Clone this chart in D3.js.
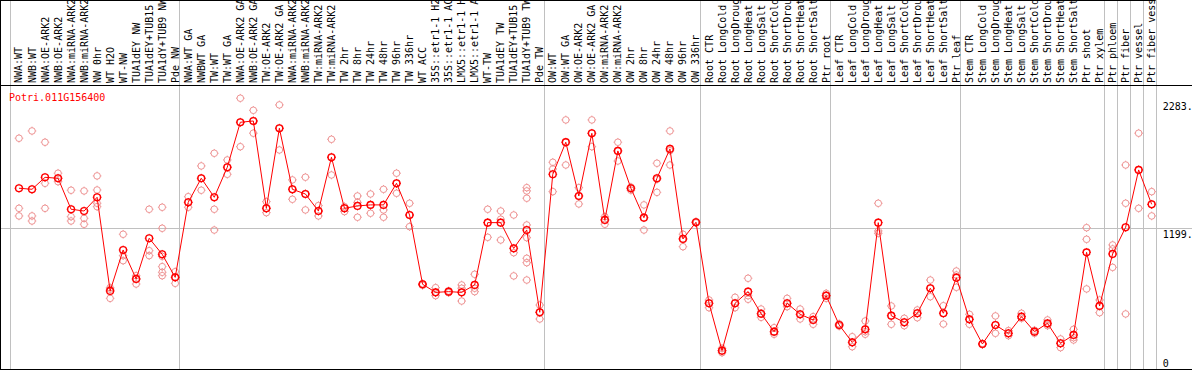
<!DOCTYPE html>
<html lang="en">
<head>
<meta charset="UTF-8">
<title>Potri.011G156400</title>
<script src="https://d3js.org/d3.v7.min.js"></script>
<style>
  html, body { margin: 0; padding: 0; background: #fff; }
  svg { display: block; }
  text { font-family: "DejaVu Sans Mono", monospace; font-size: 10px; }
</style>
</head>
<body>
<div id="chart"></div>
<script>
// sample labels, one per column
const labels = [
  "NWA:WT", "NWB:WT", "NWA:OE-ARK2", "NWB:OE-ARK2", "NWA:miRNA-ARK2", "NWB:miRNA-ARK2",
  "NW 0hr", "WT H2O", "WT-NW", "TUA1dEY NW", "TUA1dEY+TUB15 NW", "TUA1dY+TUB9 NW", "Pde NW",
  "NWA:WT GA", "NWBWT GA", "TW:WT", "TW:WT GA", "NWA:OE-ARK2 GA", "NWB:OE-ARK2 GA",
  "TW:OE-ARK2", "TW:OE-ARK2 GA", "NWA:miRNA-ARK2 GA", "NWB:miRNA-ARK2 GA", "TW:miRNA-ARK2",
  "TW:miRNA-ARK2 GA", "TW 2hr", "TW 8hr", "TW 24hr", "TW 48hr", "TW 96hr", "TW 336hr",
  "WT ACC", "35S::etr1-1 H2O", "35S::etr1-1 ACC", "LMX5::etr1-1 H2O", "LMX5::etr1-1 ACC",
  "WT-TW", "TUA1dEY TW", "TUA1dEY+TUB15 TW", "TUA1dY+TUB9 TW", "Pde TW",
  "OW:WT", "OW:WT GA", "OW:OE-ARK2", "OW:OE-ARK2 GA", "OW:miRNA-ARK2", "OW:miRNA-ARK2 GA",
  "OW 2hr", "OW 8hr", "OW 24hr", "OW 48hr", "OW 96hr", "OW 336hr",
  "Root CTR", "Root LongCold", "Root LongDrought", "Root LongHeat", "Root LongSalt",
  "Root ShortCold", "Root ShortDrought", "Root ShortHeat", "Root ShortSalt", "Ptr root",
  "Leaf CTR", "Leaf LongCold", "Leaf LongDrought", "Leaf LongHeat", "Leaf LongSalt",
  "Leaf ShortCold", "Leaf ShortDrought", "Leaf ShortHeat", "Leaf ShortSalt", "Ptr leaf",
  "Stem CTR", "Stem LongCold", "Stem LongDrought", "Stem LongHeat", "Stem LongSalt",
  "Stem ShortCold", "Stem ShortDrought", "Stem ShortHeat", "Stem ShortSalt", "Ptr shoot",
  "Ptr xylem", "Ptr phloem", "Ptr fiber", "Ptr vessel", "Ptr fiber vessel"
];

// column index where each experiment group starts (last = right edge)
const groupStarts = [0, 13, 41, 53, 63, 73, 84, 85, 86, 87, 88];

// mean expression per column
const means = [
  1540, 1531, 1633, 1625, 1361, 1346, 1463, 665, 1014, 767, 1114, 977, 781,
  1420, 1625, 1463, 1719, 2102, 2113, 1369, 2051, 1531, 1491, 1346, 1804, 1369,
  1389, 1398, 1398, 1582, 1312, 722, 653, 659, 653, 716, 1247, 1247, 1028, 1184, 483,
  1659, 1932, 1474, 2008, 1270, 1858, 1540, 1289, 1625, 1875, 1108, 1250,
  560, 156, 560, 659, 471, 318, 560, 466, 418, 625,
  375, 227, 338, 1247, 454, 398, 475, 688, 475, 778,
  423, 213, 375, 304, 446, 318, 389, 219, 290, 994, 537, 980, 1207, 1696, 1403
];

// replicate values per column
const replicates = [
  [1966, 1369, 1304], [2028, 1304, 1261], [1932, 1582, 1369], [1668, 1596, 1625],
  [1523, 1298, 1261], [1517, 1284, 1233], [1645, 1525, 1412, 1383], [693, 680, 602],
  [1148, 966, 923], [795, 767, 724], [1361, 1008, 966], [1378, 1199, 960, 872, 824, 795],
  [829, 781, 730],
  [1468, 1420, 1378], [1730, 1625, 1523], [1838, 1361, 1184], [1781, 1719, 1659],
  [2307, 2102, 1894], [2204, 2113, 2009], [1426, 1369, 1332], [2250, 2051, 1866],
  [1611, 1531, 1446], [1634, 1491, 1355], [1392, 1346, 1304], [1957, 1804, 1653],
  [1383, 1369, 1341], [1474, 1420, 1293], [1491, 1398, 1327], [1531, 1355, 1293],
  [1668, 1582, 1497], [1412, 1312, 1213], [726, 722, 713], [693, 653, 625],
  [665, 659, 650], [716, 688, 579], [807, 688, 659], [1361, 1247, 1122],
  [1346, 1276, 1099], [1312, 991, 793], [1545, 1517, 1455, 1227, 1119, 943, 906, 758],
  [545, 483, 426],
  [1761, 1704, 1511], [2122, 1932, 1738], [1545, 1474, 1406], [2122, 2008, 1894],
  [1298, 1270, 1233], [1932, 1858, 1772], [1550, 1536, 1523], [1398, 1289, 1184],
  [1753, 1616, 1505], [2028, 1860, 1738], [1148, 1108, 1042], [1255, 1250, 1245],
  [588, 560, 522], [176, 156, 139], [611, 560, 522], [773, 625, 594], [511, 471, 440],
  [352, 315, 296], [602, 560, 531], [511, 466, 426], [446, 418, 381], [645, 625, 602],
  [385, 375, 365], [275, 227, 190], [409, 318, 296], [1412, 1176, 1156], [537, 454, 381],
  [432, 398, 369], [503, 475, 437], [758, 688, 616], [539, 475, 383], [835, 801, 696],
  [466, 423, 381], [218, 213, 208], [452, 375, 304], [327, 304, 284], [475, 446, 432],
  [330, 315, 304], [418, 381, 369], [256, 219, 182], [338, 267, 247], [1204, 1105, 682],
  [588, 537, 480], [1057, 1023, 866], [1738, 1412, 469], [2009, 1696, 1369], [1511, 1403, 1304]
];

const yTickValues = [0, 1199.4, 2283.6];
const geneName = "Potri.011G156400";

const W = 1194, H = 370;
const plot = { left: 10, right: 1155.7, top: 86, bottom: 369 };

const svg = d3.select("#chart").append("svg")
  .attr("width", W).attr("height", H);

svg.append("defs").append("clipPath").attr("id", "clip")
  .append("rect").attr("x", 0).attr("y", 0).attr("width", 1192).attr("height", H);

const root = svg.append("g").attr("clip-path", "url(#clip)");

const x = d3.scaleBand()
  .domain(d3.range(labels.length))
  .range([plot.left, plot.right])
  .paddingInner(0).paddingOuter(0);
const px = i => x(i) + x.bandwidth() * 0.69;

const y = d3.scaleLinear().domain([0, 2411]).range([plot.bottom, plot.top]);

// grid
const gridX = groupStarts.map(i => i < labels.length ? x(i) : plot.right);
root.selectAll("line.vgrid").data(gridX).enter().append("line")
  .attr("class", "vgrid")
  .attr("x1", d => Math.round(d) + 0.5).attr("x2", d => Math.round(d) + 0.5)
  .attr("y1", 0).attr("y2", plot.bottom)
  .attr("stroke", "#c0c0c0").attr("stroke-width", 1);

root.append("line")
  .attr("x1", 1).attr("x2", 1192)
  .attr("y1", Math.round(y(yTickValues[1])) + 0.5).attr("y2", Math.round(y(yTickValues[1])) + 0.5)
  .attr("stroke", "#c0c0c0");

// column labels, rotated
root.append("g").selectAll("text").data(labels).enter().append("text")
  .attr("transform", (d, i) => `translate(${px(i) + 3.5},83) rotate(-90)`)
  .attr("fill", "#000")
  .text(d => d);

// right axis
const yAxis = d3.axisRight(y).tickValues(yTickValues).tickSize(0)
  .tickFormat(d => d === 0 ? "0" : d.toFixed(1));
const gy = root.append("g").attr("transform", `translate(${plot.right + 7},0)`).call(yAxis);
gy.select(".domain").remove();
gy.selectAll("text")
  .attr("x", 0)
  .attr("dy", d => d === 0 ? "-3px" : "9px")
  .attr("fill", "#000")
  .style("font-family", "'DejaVu Sans Mono', monospace")
  .style("font-size", "10px");

// frame
const frame = root.append("g").attr("stroke", "#000").attr("stroke-width", 1).attr("fill", "none");
frame.append("line").attr("x1", 0.5).attr("x2", 0.5).attr("y1", 0).attr("y2", H);
frame.append("line").attr("x1", 0).attr("x2", W).attr("y1", 85.5).attr("y2", 85.5);
frame.append("line").attr("x1", 0).attr("x2", W).attr("y1", 369.5).attr("y2", 369.5);
frame.append("line").attr("x1", 1192.5).attr("x2", 1192.5).attr("y1", 85).attr("y2", H);
frame.append("line").attr("x1", 0).attr("x2", plot.right).attr("y1", 0.5).attr("y2", 0.5);

// round marker with tiny ticks at the four compass points
function marker(g, r, color, sw) {
  g.append("circle").attr("r", r).attr("fill", "none").attr("stroke", color).attr("stroke-width", sw);
  g.append("path")
    .attr("d", `M0,${-r - 1}V${-r}M0,${r}V${r + 1}M${-r - 1},0H${-r}M${r},0H${r + 1}`)
    .attr("stroke", color).attr("stroke-width", 1);
}

const reps = [];
replicates.forEach((arr, i) => arr.forEach(v => reps.push({ i, v })));

root.append("g").selectAll("g").data(reps).enter().append("g")
  .attr("transform", d => `translate(${px(d.i)},${y(d.v)})`)
  .each(function () { marker(d3.select(this), 3.3, "#ee9494", 1); });

const line = d3.line().x((d, i) => px(i)).y(d => y(d));
root.append("path").datum(means)
  .attr("d", line).attr("fill", "none").attr("stroke", "#ff0000").attr("stroke-width", 1);

root.append("g").selectAll("g").data(means).enter().append("g")
  .attr("transform", (d, i) => `translate(${px(i)},${y(d)})`)
  .each(function () { marker(d3.select(this), 3.4, "#ff0000", 1.4); });

root.append("text")
  .attr("x", 9).attr("y", 101)
  .attr("fill", "#ff0000")
  .text(geneName);
</script>
</body>
</html>
